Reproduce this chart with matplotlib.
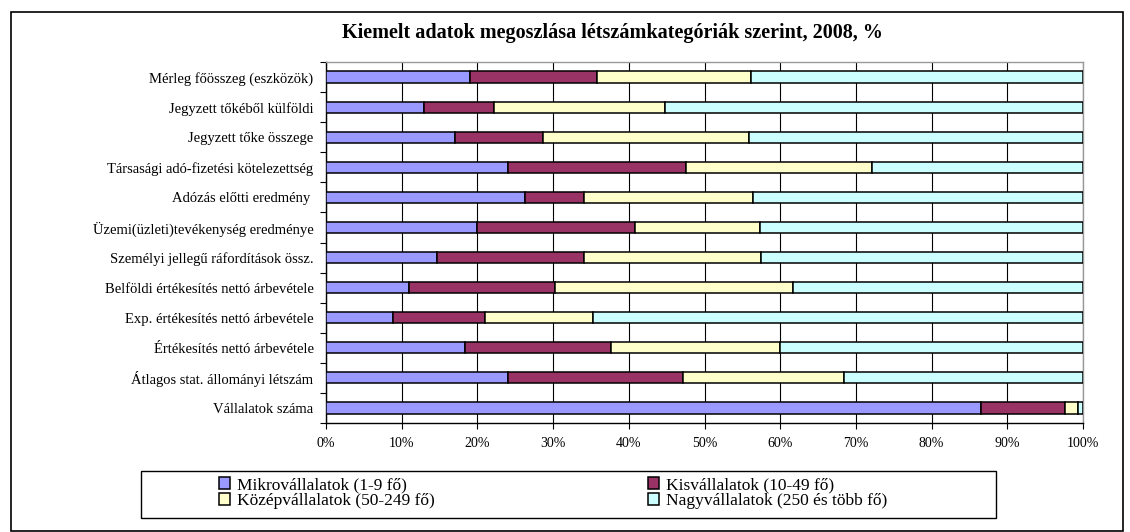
import matplotlib
matplotlib.use("Agg")
import matplotlib.pyplot as plt
from matplotlib.patches import Rectangle
import numpy as np

plt.rcParams['font.family'] = ['Liberation Serif', 'DejaVu Serif']

# adatok (százalék, leolvasva)
categories = [
    'Mérleg főösszeg (eszközök)',
    'Jegyzett tőkéből külföldi',
    'Jegyzett tőke összege',
    'Társasági adó-fizetési kötelezettség',
    'Adózás előtti eredmény ',
    'Üzemi(üzleti)tevékenység eredménye',
    'Személyi jellegű ráfordítások össz.',
    'Belföldi értékesítés nettó árbevétele',
    'Exp. értékesítés nettó árbevétele',
    'Értékesítés nettó árbevétele',
    'Átlagos stat. állományi létszám',
    'Vállalatok száma',
]
mikro = [19.0, 13.0, 17.0, 24.0, 26.3, 19.9, 14.7, 10.9, 8.9, 18.3, 24.0, 86.5]
kis = [16.8, 9.2, 11.7, 23.5, 7.8, 20.9, 19.4, 19.4, 12.1, 19.3, 23.1, 11.1]
kozep = [20.4, 22.6, 27.2, 24.6, 22.3, 16.5, 23.4, 31.4, 14.3, 22.4, 21.3, 1.8]
nagy = [43.8, 55.2, 44.1, 27.9, 43.6, 42.7, 42.5, 38.3, 64.7, 40.0, 31.6, 0.6]

series_names = ['Mikrovállalatok (1-9 fő)', 'Kisvállalatok (10-49 fő)',
                'Középvállalatok (50-249 fő)', 'Nagyvállalatok (250 és több fő)']
colors = ['#9999FF', '#993366', '#FFFFCC', '#CCFFFF']

W, H = 1130, 532
fig = plt.figure(figsize=(W / 100, H / 100), dpi=100)
ax = fig.add_axes([326 / W, 1 - 423 / H, (1083 - 326) / W, (423 - 62) / H])

y = np.arange(len(categories))
left = np.zeros(len(categories))
handles = []
for vals, c, name in zip([mikro, kis, kozep, nagy], colors, series_names):
    h = ax.barh(y, vals, left=left, height=0.37, color=c, edgecolor='black',
                linewidth=1.1, label=name, zorder=3)
    handles.append(h)
    left = left + np.array(vals)

ax.set_xlim(0, 100)
ax.set_ylim(len(categories) - 0.5, -0.5)
ax.set_xticks(np.arange(0, 101, 10))
ax.set_xticklabels([f'{v}%' for v in range(0, 101, 10)], fontsize=10)
ax.xaxis.grid(True, color='black', linewidth=0.8, zorder=0)
ax.tick_params(axis='x', direction='out', length=4, width=0.8, pad=6)

ax.set_yticks(y)
ax.set_yticklabels(categories, fontsize=10.5)
ax.set_yticks(np.arange(-0.5, len(categories), 1), minor=True)
ax.tick_params(axis='y', which='major', length=0, pad=9)
ax.tick_params(axis='y', which='minor', direction='out', length=4, width=0.8)

ax.spines['left'].set_color('black')
ax.spines['bottom'].set_color('black')
ax.spines['top'].set_color('#999999')
ax.spines['right'].set_color('#999999')
for s in ax.spines.values():
    s.set_linewidth(1.0)

fig.text(612 / W, 1 - 33 / H, 'Kiemelt adatok megoszlása létszámkategóriák szerint, 2008, %',
         ha='center', va='center', fontsize=14.5, fontweight='bold')

# jelmagyarázat: keret külön, két oszlop külön
fig.patches.append(Rectangle((141 / W, 1 - 518 / H), (996 - 141) / W, 47 / H,
                             transform=fig.transFigure, fill=False,
                             edgecolor='black', linewidth=1.0))
leg_kw = dict(loc='center left', fontsize=12.5, frameon=False,
              handlelength=0.65, handleheight=0.65, handletextpad=0.4,
              borderpad=0, labelspacing=0.0, borderaxespad=0)
fig.legend([handles[0], handles[2]], [series_names[0], series_names[2]],
           bbox_to_anchor=(219 / W, 1 - 493 / H), **leg_kw)
fig.legend([handles[1], handles[3]], [series_names[1], series_names[3]],
           bbox_to_anchor=(648 / W, 1 - 493 / H), **leg_kw)

# külső keret
fig.patches.append(Rectangle((11 / W, 1 / H), (1123 - 11) / W, (531 - 12) / H,
                             transform=fig.transFigure, fill=False,
                             edgecolor='black', linewidth=1.2))

fig.savefig('out.png', dpi=100)
